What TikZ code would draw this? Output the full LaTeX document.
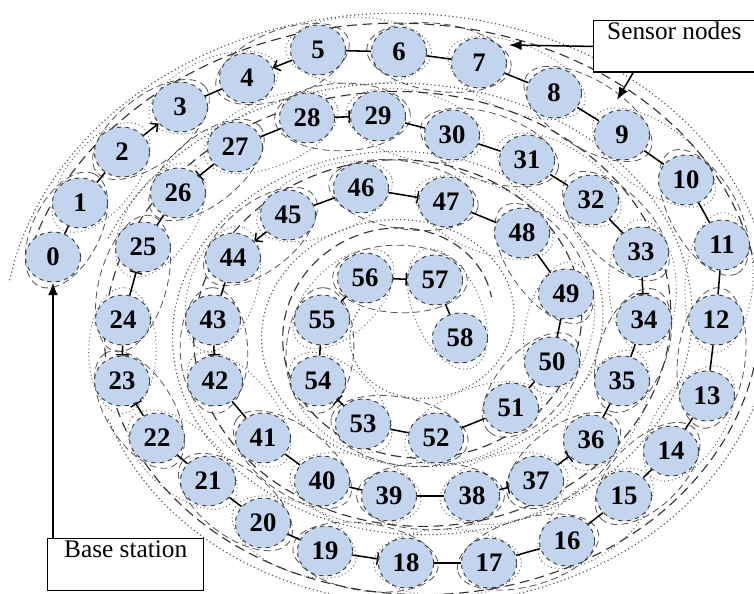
\documentclass[tikz,border=0pt]{standalone}
\usepackage{fontspec}
\setmainfont{Liberation Serif}
\usetikzlibrary{arrows.meta,positioning,calc,shapes.geometric,backgrounds}
\definecolor{NodeBlue}{HTML}{C3D4EE}
\definecolor{Rim}{HTML}{3A3F48}
\tikzset{
 sensor/.style={ellipse, draw=Rim, dashed, line width=0.7pt, fill=NodeBlue, minimum width=1.38cm, minimum height=1.25cm, inner sep=0pt, font=\fontsize{19}{21}\selectfont\bfseries},
 link/.style={draw=black, line width=1.1pt},
 barend/.style={link, -{Bar[width=9pt, line width=1pt]}},
 barstart/.style={link, {Bar[width=9pt, line width=1pt]}-},
 tipend/.style={link, -{Straight Barb[length=4pt, width=8pt]}},
 tipstart/.style={link, {Straight Barb[length=4pt, width=8pt]}-},
 pointer/.style={-{Latex[length=9pt,width=7pt]}, line width=1.1pt},
 labelbox/.style={draw=black, line width=1pt, fill=white, align=center, inner sep=1pt, minimum height=1.25cm, font=\fontsize{18}{17}\selectfont},
 ringdash/.style={dash pattern=on 7pt off 4pt, line width=0.8pt, draw=black!80},
 ringdot/.style={dotted, line width=0.8pt, draw=black!70},
 pairdash/.style={dash pattern=on 5pt off 3pt, line width=0.6pt, draw=black!65},
 pairdot/.style={dotted, line width=0.7pt, draw=black!60}
}

\begin{document}
\begin{tikzpicture}[x=0.025cm, y=-0.025cm]
\useasboundingbox (0,0) rectangle (754,593);

% borders between the rings
\begin{scope}
\clip (0,0) rectangle (754,593);
\draw[ringdash] plot[domain=195:1420, samples=260, smooth, variable=\t]
 ({410+(439-0.248*\t)*cos(\t)}, {326+(354-0.19*\t)*sin(\t)});
\draw[ringdot] plot[domain=200:1280, samples=220, smooth, variable=\t]
 ({410+(371-0.248*\t)*cos(\t)}, {326+(294-0.19*\t)*sin(\t)});
\draw[ringdot] plot[domain=188:520, samples=80, smooth, variable=\t]
 ({410+(451-0.248*\t)*cos(\t)}, {326+(364-0.19*\t)*sin(\t)});
\end{scope}

% sensor nodes
\foreach \k/\px/\py in {0/53/257, 1/80/203, 2/122/152, 3/180/107, 4/247/78,
  5/318/50, 6/399/52, 7/479/63, 8/554/93, 9/622/135, 10/686/180,
  11/722/245, 12/716/320, 13/707/396, 14/671/451, 15/624/496,
  16/567/541, 17/489/563, 18/406/563, 19/325/551, 20/263/523,
  21/208/481, 22/157/438, 23/122/381, 24/123/320, 25/143/247,
  26/178/193, 27/235/147, 28/307/118, 29/378/116, 30/452/135,
  31/527/160, 32/591/200, 33/641/252, 34/644/320, 35/622/381,
  36/591/440, 37/536/481, 38/472/496, 39/389/496, 40/322/481,
  41/263/438, 42/215/381, 43/213/320, 44/233/258, 45/288/215,
  46/361/188, 47/446/202, 48/522/233, 49/566/294, 50/552/362,
  51/511/408, 52/436/438, 53/363/424, 54/318/381, 55/322/320,
  56/365/278, 57/435/280, 58/460/338}
  \node[sensor] (n\k) at (\px,\py) {\k};

% cluster loops round neighbouring nodes
\begin{pgfonlayer}{background}
\foreach \k in {0,...,57}{
  \pgfmathtruncatemacro\m{\k+1}
  \pgfmathtruncatemacro\odd{mod(\k,2)}
  \path let \p1=($(n\m)-(n\k)$) in
    \pgfextra{\pgfmathsetmacro\ang{atan2(\y1,\x1)}\pgfmathsetmacro\half{veclen(\x1,\y1)/2+23}
      \xdef\ang{\ang}\xdef\half{\half}};
  \ifnum\odd=0 \def\loopstyle{pairdash}\else \def\loopstyle{pairdot}\fi
  \draw[\loopstyle, rotate around={\ang:($(n\k)!0.5!(n\m)$)}]
    ($(n\k)!0.5!(n\m)$) ellipse [x radius=\half pt, y radius=24pt];
}
\end{pgfonlayer}

% chain of links
\foreach \k/\sty in {0/link, 1/link, 2/tipend, 3/link, 4/tipstart, 5/link, 6/link,
  7/link, 8/link, 9/link, 10/link, 11/link, 12/link, 13/link, 14/link,
  15/link, 16/link, 17/link, 18/barstart, 19/link, 20/link, 21/link,
  22/barend, 23/barstart, 24/barend, 25/link, 26/barstart, 27/link,
  28/barend, 29/link, 30/link, 31/link, 32/link, 33/barend, 34/link,
  35/link, 36/barstart, 37/barstart, 38/link, 39/link, 40/link, 41/link,
  42/barstart, 43/link, 44/tipstart, 45/link, 46/barend, 47/link, 48/link,
  49/link, 50/link, 51/link, 52/link, 53/barend, 54/link, 55/link,
  56/barend, 57/link}{
  \pgfmathtruncatemacro\m{\k+1}
  \draw[\sty] (n\k) -- (n\m);
}

% labels
\node[labelbox, anchor=north west, minimum width=4.03cm] (sensorbox) at (593,20) {Sensor nodes\\ \strut};
\node[labelbox, anchor=north west, minimum width=3.9cm, minimum height=1.3cm] (basebox) at (47,538) {Base station\\ \strut};
\coordinate (tipa) at (509,45);
\coordinate (tipb) at (617,100);
\draw[pointer] (sensorbox.west) -- (tipa);
\draw[pointer] ([xshift=1cm]sensorbox.south west) -- (tipb);
\draw[pointer] (n0.south |- basebox.north) -- (n0.south);
\end{tikzpicture}
\end{document}
